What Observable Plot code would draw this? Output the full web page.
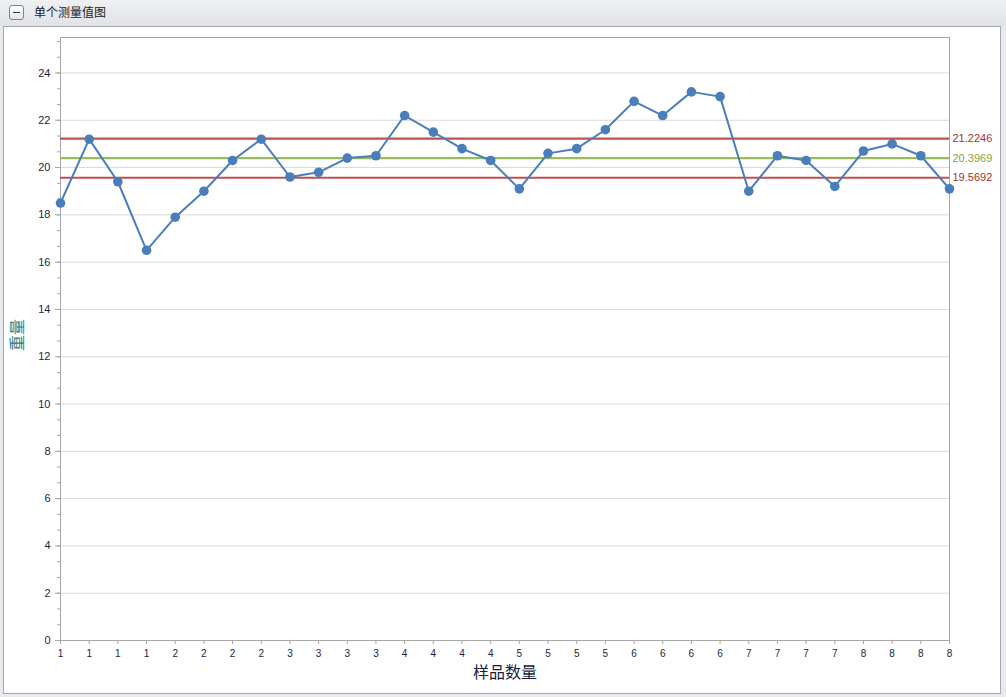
<!DOCTYPE html>
<html><head><meta charset="utf-8">
<script src="https://cdn.jsdelivr.net/npm/d3@7"></script>
<script src="https://cdn.jsdelivr.net/npm/@observablehq/plot@0.6"></script>
<style>
body{margin:0;width:1006px;height:697px;background:#e9eaee;position:relative;overflow:hidden;font-family:"Noto Sans CJK SC","Liberation Sans",sans-serif}
#hdr{position:absolute;left:0;top:0;width:1006px;height:26px;background:linear-gradient(#eef0f3,#e0e2e7);}
#icon{position:absolute;left:9px;top:5px;width:13px;height:13px;border:1px solid #7d828c;border-radius:3px;background:linear-gradient(#ffffff,#e3e5ea)}
#icon:after{content:"";position:absolute;left:3px;top:6px;width:7px;height:1px;background:#333}
#title{position:absolute;left:34px;top:4px;font-size:12px;color:#1b1b24;line-height:16px}
#panel{position:absolute;left:3px;top:26px;width:996px;height:666px;border:1px solid #a4a7ae;background:#fff}
#panel svg{display:block}
</style></head>
<body>
<div id="hdr"><div id="icon"></div><div id="title">单个测量值图</div></div>
<div id="panel"></div>
<script>
const sampleLabels = ["1","1","1","1","2","2","2","2","3","3","3","3","4","4","4","4",
                      "5","5","5","5","6","6","6","6","7","7","7","7","8","8","8","8"];
const weights = [18.5,21.2,19.4,16.5,17.9,19.0,20.3,21.2,19.6,19.8,20.4,20.5,22.2,21.5,20.8,20.3,
                 19.1,20.6,20.8,21.6,22.8,22.2,23.2,23.0,19.0,20.5,20.3,19.2,20.7,21.0,20.5,19.1];
const upperLimit = 21.2246;
const centerLine = 20.3969;
const lowerLimit = 19.5692;
const yMajorTicks = [0,2,4,6,8,10,12,14,16,18,20,22,24];
const xTitle = "样品数量";
const yTitle = "重量";

const data = weights.map((v, i) => ({i, v}));
const idx = weights.map((_, i) => i);
const minorTicks = d3.range(0, 25.5, 2/3);
const limits = [
  {v: upperLimit, label: upperLimit.toFixed(4), c: "#c0504d", t: "#a8322e"},
  {v: centerLine, label: centerLine.toFixed(4), c: "#9bbb59", t: "#8aa43c"},
  {v: lowerLimit, label: lowerLimit.toFixed(4), c: "#c0504d", t: "#a8322e"}
];

const chart = Plot.plot({
  width: 996, height: 666,
  marginLeft: 56, marginRight: 51, marginTop: 10, marginBottom: 53,
  style: {background: "transparent", fontFamily: "'Liberation Sans', sans-serif", fontSize: "11px", color: "#1e1e3c"},
  x: {domain: [0, weights.length - 1]},
  y: {domain: [0, 25.5]},
  marks: [
    Plot.gridY(yMajorTicks, {stroke: "#d9d9d9", strokeOpacity: 1}),
    Plot.axisY(minorTicks, {tickSize: 3, tickFormat: () => "", stroke: "#a6a6a6", label: null}),
    Plot.axisY(yMajorTicks, {tickSize: 5, tickPadding: 5, stroke: "#a6a6a6", fill: "#1e1e3c", label: null, fontSize: 11}),
    Plot.axisX(idx, {tickSize: 4, tickPadding: 5, stroke: "#a6a6a6", fill: "#1e1e3c", tickFormat: i => sampleLabels[i], label: null, fontSize: 10}),
    Plot.frame({stroke: "#a6a6a6"}),
    Plot.ruleY(limits, {y: "v", stroke: "c", strokeWidth: 2.2}),
    Plot.text(limits, {x: weights.length - 1, y: "v", text: "label", fill: "t", dx: 3, textAnchor: "start", fontSize: 11}),
    Plot.line(data, {x: "i", y: "v", stroke: "#4a7ebb", strokeWidth: 2}),
    Plot.dot(data, {x: "i", y: "v", r: 4.8, fill: "#4a7ebb"}),
    Plot.text([xTitle], {frameAnchor: "bottom", dy: 37, fontSize: 16, fill: "#211c3c", fontFamily: "'Noto Sans CJK SC'"}),
    Plot.text([yTitle], {frameAnchor: "left", dx: -43, dy: 12, rotate: -90, fontSize: 16, fill: "#2f7f8a", fontFamily: "'Noto Sans CJK SC'"})
  ]
});
document.getElementById("panel").appendChild(chart);
</script>
</body></html>
